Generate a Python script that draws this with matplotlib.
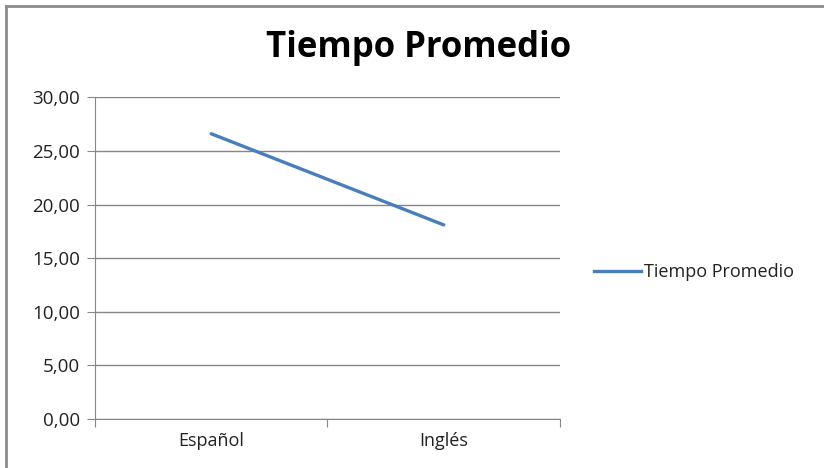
import matplotlib.pyplot as plt
from matplotlib.lines import Line2D
from matplotlib.ticker import FixedLocator, FuncFormatter

idiomas = ['Español', 'Inglés']
tiempo_promedio = [26.6, 18.1]
serie = 'Tiempo Promedio'

plt.rcParams['font.family'] = ['Open Sans', 'DejaVu Sans']

gris = '#868686'
azul = '#4a7ebb'
texto = '#222222'

fig = plt.figure(figsize=(8.24, 4.68), dpi=100)
ax = fig.add_axes([0.1153, 0.1047, 0.5643, 0.6874])

x = [i + 0.5 for i in range(len(idiomas))]
ax.plot(x, tiempo_promedio, color=azul, lw=2.4, solid_capstyle='round', label=serie)

ax.set_xlim(0, len(idiomas))
ax.set_ylim(0, 30)
ax.set_yticks(range(0, 31, 5))
ax.yaxis.set_major_formatter(FuncFormatter(lambda v, p: f'{v:.2f}'.replace('.', ',')))
ax.yaxis.grid(True, color=gris, lw=1)
ax.set_axisbelow(True)

# category labels sit between the boundary ticks
ax.xaxis.set_major_locator(FixedLocator(range(len(idiomas) + 1)))
ax.xaxis.set_major_formatter(FuncFormatter(lambda v, p: ''))
ax.xaxis.set_minor_locator(FixedLocator(x))
ax.set_xticklabels(idiomas, minor=True)
ax.tick_params(axis='x', which='minor', length=0, pad=9, labelsize=13, labelcolor=texto)
ax.tick_params(axis='x', which='major', length=6, color=gris)
ax.tick_params(axis='y', length=6, color=gris, labelsize=13.5, labelcolor=texto, pad=5)

for s in ['top', 'right']:
    ax.spines[s].set_visible(False)
for s in ['left', 'bottom']:
    ax.spines[s].set_color(gris)

fig.text(0.508, 0.897, 'Tiempo Promedio', ha='center', va='center',
         fontsize=25, fontweight='bold', color='black')

fig.legend(handles=[Line2D([], [], color=azul, lw=2.4, label=serie)],
           loc='center left', bbox_to_anchor=(0.701, 1 - 272 / 468), frameon=False,
           fontsize=13, handlelength=2.6, handletextpad=0.2, labelcolor=texto)

# chart area frame (only left and top edges fall inside the picture)
fig.add_artist(Line2D([6 / 824, 6 / 824], [0, 1 - 6 / 468], color='#8c8c8c', lw=2))
fig.add_artist(Line2D([6 / 824, 1], [1 - 6 / 468, 1 - 6 / 468], color='#8c8c8c', lw=2))

fig.savefig('out.png', dpi=100)
